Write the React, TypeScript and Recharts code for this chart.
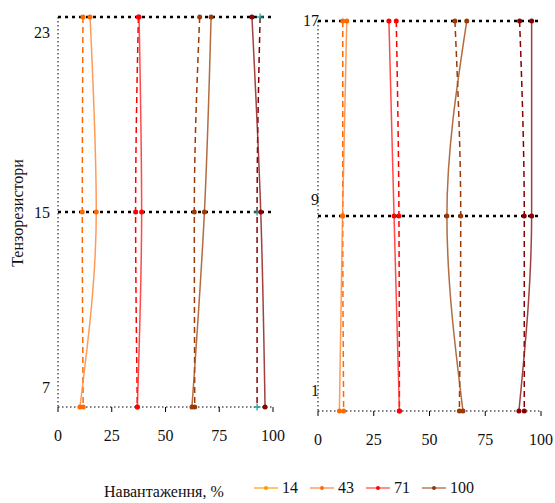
import { Line, LineChart, ReferenceLine, XAxis, YAxis } from 'recharts'

// навантаження (legend)
const loads = ['14', '43', '71', '100']
const legendLine = ['#ffb23f', '#ff9c66', '#ff6a6a', '#bb7a56']
const legendDot = ['#ff9a00', '#ff6a10', '#ff0000', '#8e3a12']

const xTicks = [0, 25, 50, 75, 100]

// тензорезистори, top to bottom
const leftSensors = [23, 15, 7]
const rightSensors = [17, 9, 1]

// left panel: solid (m) and dashed (c) per group
const leftM1 = [14.9, 17.8, 10.2]
const leftC1 = [11.6, 11.3, 11.7]
const leftM2 = [37.7, 38.9, 36.9]
const leftC2 = [37.4, 36.1, 36.9]
const leftM3 = [71.2, 68.1, 62.3]
const leftC3 = [65.9, 63.4, 63.6]
const leftM4 = [90.2, 94.3, 96.3]
const leftC4 = [94.0, 92.6, 92.6]

// right panel
const rightM1 = [12.9, 11.0, 9.6]
const rightC1 = [11.1, 11.1, 11.5]
const rightM2 = [31.8, 34.1, 36.5]
const rightC2 = [35.1, 36.3, 36.5]
const rightM3 = [66.7, 57.8, 65.0]
const rightC3 = [61.4, 64.0, 63.4]
const rightM4 = [95.8, 95.8, 90.1]
const rightC4 = [90.4, 92.5, 92.5]

const solidColors = ['#ff8a3d', '#ff2a2a', '#a5521f', '#8f2020']
const dashColors = ['#ff6a00', '#ff0000', '#9c3a06', '#880000']

const FONT = "'Liberation Serif', 'DejaVu Serif', serif"

function rows(sensors: number[], m: number[][], c: number[][]) {
  return sensors.map((s, i) => ({
    sensor: s,
    m1: m[0][i], m2: m[1][i], m3: m[2][i], m4: m[3][i],
    c1: c[0][i], c2: c[1][i], c3: c[2][i], c4: c[3][i],
  }))
}

const leftData = rows(leftSensors, [leftM1, leftM2, leftM3, leftM4], [leftC1, leftC2, leftC3, leftC4])
const rightData = rows(rightSensors, [rightM1, rightM2, rightM3, rightM4], [rightC1, rightC2, rightC3, rightC4])

function PlusDot({ cx, cy }: any) {
  if (cx == null || cy == null) return null
  return (
    <g stroke="#1f9e9e" strokeWidth={1.3}>
      <line x1={cx - 3.5} y1={cy} x2={cx + 3.5} y2={cy} />
      <line x1={cx} y1={cy - 3.5} x2={cx} y2={cy + 3.5} />
    </g>
  )
}

// label offsets: the reference draws the tick labels a bit off their grid lines
function makeYTick(shifts: Record<number, number>, dx: number) {
  return function YTick({ x, y, payload }: any) {
    return (
      <text x={x + dx} y={y + (shifts[payload.value] ?? 0)} textAnchor="end" dominantBaseline="central"
        style={{ fontSize: 16, fontFamily: FONT }} fill="#111">
        {payload.value}
      </text>
    )
  }
}

const LeftTick = makeYTick({ 23: 15, 15: 0, 7: -20 }, 0)
const RightTick = makeYTick({ 17: -1, 9: -17, 1: -21 }, 9)

function Panel({ data, sensors, width, height, margin, yWidth, tick, plusLast }: any) {
  const lo = sensors[sensors.length - 1]
  const hi = sensors[0]
  return (
    <LineChart layout="vertical" width={width} height={height} data={data} margin={margin} style={{ fontFamily: FONT }}>
      <XAxis type="number" dataKey="m1" domain={[0, 100]} ticks={xTicks} allowDataOverflow
        axisLine={{ stroke: '#000', strokeDasharray: '1.5 2.5' }} tickLine={{ stroke: '#000' }} tickSize={5} tickMargin={18}
        tick={{ fontSize: 16, fill: '#111', style: { fontFamily: FONT } }} height={30} />
      <YAxis type="number" dataKey="sensor" domain={[lo, hi]} ticks={sensors} width={yWidth} reversed
        axisLine={{ stroke: '#000', strokeDasharray: '1.5 2.5' }} tickLine={false} tick={tick} />
      {sensors.slice(0, 2).map((s: number) => (
        <ReferenceLine key={s} y={s} stroke="#000" strokeWidth={2.5} strokeDasharray="3 4" />
      ))}
      {[1, 2, 3, 4].map((g) => (
        <Line key={'c' + g} type="monotone" dataKey={'c' + g} stroke={dashColors[g - 1]} strokeWidth={1.5}
          strokeDasharray="6 4" isAnimationActive={false}
          dot={plusLast && g === 4 ? <PlusDot /> : { r: 2.5, fill: dashColors[g - 1], stroke: 'none' }} />
      ))}
      {[1, 2, 3, 4].map((g) => (
        <Line key={'m' + g} type="monotone" dataKey={'m' + g} stroke={solidColors[g - 1]} strokeWidth={1.5}
          strokeOpacity={0.85} isAnimationActive={false}
          dot={{ r: 2.5, fill: dashColors[g - 1], stroke: 'none' }} />
      ))}
    </LineChart>
  )
}

export default function App() {
  return (
    <div style={{ position: 'absolute', left: 0, top: 0, width: 555, height: 503, background: '#fff', fontFamily: FONT }}>
      <div style={{ position: 'absolute', left: 0, top: 0 }}>
        <Panel data={leftData} sensors={leftSensors} width={285} height={460} yWidth={40}
          margin={{ top: 17, right: 12, bottom: 23, left: 18 }} tick={<LeftTick />} plusLast />
      </div>
      <div style={{ position: 'absolute', left: 280, top: 0 }}>
        <Panel data={rightData} sensors={rightSensors} width={275} height={465} yWidth={30}
          margin={{ top: 21, right: 14, bottom: 24, left: 8 }} tick={<RightTick />} />
      </div>
      <div style={{ position: 'absolute', left: 18, top: 213, transform: 'translate(-50%, -50%) rotate(-90deg)', fontSize: 16, whiteSpace: 'nowrap', color: '#111' }}>
        Тензорезистори
      </div>
      <div style={{ position: 'absolute', left: 104, top: 483, fontSize: 16, whiteSpace: 'nowrap', color: '#111' }}>
        Навантаження, %
      </div>
      <div style={{ position: 'absolute', left: 254, top: 479, display: 'flex', alignItems: 'center', fontSize: 16, color: '#111' }}>
        {loads.map((l, i) => (
          <div key={l} style={{ display: 'flex', alignItems: 'center', width: 56 }}>
            <svg width={24} height={10} style={{ marginRight: 4 }}>
              <line x1={0} y1={5} x2={24} y2={5} stroke={legendLine[i]} strokeWidth={1.5} />
              <circle cx={12} cy={5} r={2} fill={legendDot[i]} />
            </svg>
            <span>{l}</span>
          </div>
        ))}
      </div>
    </div>
  )
}
